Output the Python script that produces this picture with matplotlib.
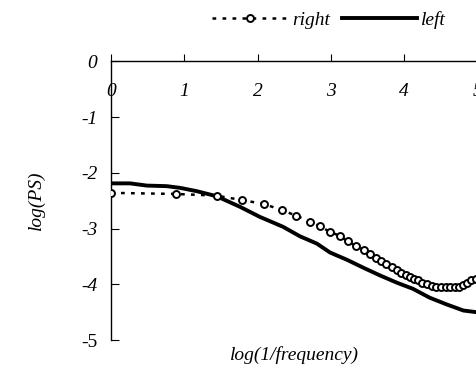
import matplotlib
matplotlib.use('Agg')
import matplotlib.pyplot as plt

# data
right_x = [0.0, 0.89, 1.44, 1.79, 2.09, 2.33, 2.53, 2.72, 2.85, 2.99, 3.12, 3.23,
           3.34, 3.45, 3.54, 3.62, 3.69, 3.76, 3.83, 3.90, 3.96, 4.02, 4.08, 4.13,
           4.19, 4.25, 4.31, 4.38, 4.44, 4.50, 4.57, 4.63, 4.69, 4.75, 4.81, 4.86,
           4.92, 4.98]
right_y = [-2.36, -2.38, -2.41, -2.49, -2.56, -2.67, -2.77, -2.88, -2.96, -3.06,
           -3.13, -3.23, -3.31, -3.38, -3.45, -3.52, -3.58, -3.64, -3.69, -3.75,
           -3.79, -3.83, -3.86, -3.90, -3.93, -3.97, -4.00, -4.03, -4.05, -4.05,
           -4.05, -4.05, -4.05, -4.05, -4.01, -3.97, -3.93, -3.90]

left_x = [0.0, 0.26, 0.49, 0.76, 0.94, 1.17, 1.44, 1.76, 2.03, 2.35, 2.58, 2.81,
          2.99, 3.22, 3.44, 3.67, 3.90, 4.12, 4.35, 4.58, 4.81, 4.99]
left_y = [-2.19, -2.19, -2.23, -2.24, -2.27, -2.33, -2.42, -2.61, -2.79, -2.97,
          -3.14, -3.27, -3.43, -3.56, -3.70, -3.84, -3.97, -4.08, -4.24, -4.36,
          -4.47, -4.50]

x_ticks = [0, 1, 2, 3, 4, 5]
y_ticks = [0, -1, -2, -3, -4, -5]

plt.rcParams['font.family'] = ['Liberation Serif', 'DejaVu Serif']
plt.rcParams['font.style'] = 'italic'
plt.rcParams['font.size'] = 14

fig = plt.figure(figsize=(4.77, 3.90), dpi=100)
ax = fig.add_axes([0.2327, 0.128, 0.768, 0.715])

ax.plot(right_x, right_y, color='black', linestyle=(0, (1.5, 2.5)), linewidth=1.8,
        marker='o', markersize=5, markerfacecolor='white', markeredgecolor='black',
        markeredgewidth=1.4, label='right', zorder=3)
ax.plot(left_x, left_y, color='black', linewidth=2.8, label='left', zorder=2)

ax.set_xlim(0, 5)
ax.set_ylim(-5, 0)

ax.spines['right'].set_visible(False)
ax.spines['bottom'].set_visible(False)
ax.spines['top'].set_linewidth(1.0)
ax.spines['left'].set_linewidth(1.0)

ax.xaxis.tick_top()
ax.tick_params(axis='x', direction='out', length=5, pad=-33, labelsize=14)
ax.tick_params(axis='y', direction='in', length=6, pad=10, labelsize=14)
ax.set_xticks(x_ticks, labels=[str(t) for t in x_ticks])
ax.set_yticks(y_ticks, labels=[str(t) for t in y_ticks])
# the bottom label is upright in the reference
ax.get_yticklabels()[-1].set_fontstyle('normal')

ax.set_ylabel('log(PS)', fontsize=14, labelpad=26)
ax.set_xlabel('log(1/frequency)', fontsize=14, labelpad=4)

fig.legend(loc='center', bbox_to_anchor=(0.69, 0.949), ncol=2, frameon=False,
           prop={'style': 'italic', 'size': 14}, handlelength=3.9,
           handletextpad=0.2, columnspacing=0.6)

fig.savefig('out.png', dpi=100)
